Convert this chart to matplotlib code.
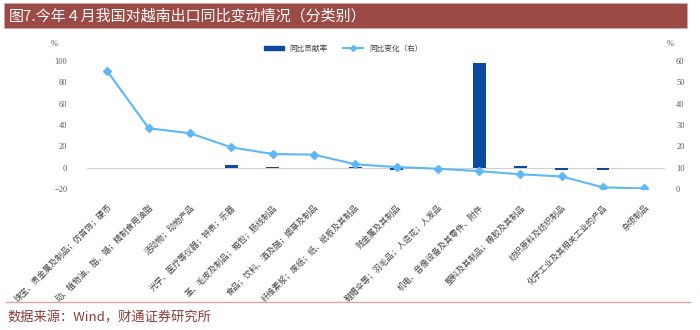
import matplotlib
matplotlib.use("Agg")
import matplotlib.pyplot as plt
from matplotlib.patches import Rectangle
from matplotlib.lines import Line2D
import numpy as np

plt.rcParams["font.family"] = ["Noto Sans CJK SC", "DejaVu Sans"]

categories = [
    "珠宝、贵金属及制品；仿首饰；硬币",
    "动、植物油、脂、蜡；精制食用油脂",
    "活动物；动物产品",
    "光学、医疗等仪器；钟表；乐器",
    "革、毛皮及制品；箱包；肠线制品",
    "食品；饮料、酒及醋；烟草及制品",
    "纤维素浆；废纸；纸、纸板及其制品",
    "贱金属及其制品",
    "鞋帽伞等；羽毛品；人造花；人发品",
    "机电、音像设备及其零件、附件",
    "塑料及其制品；橡胶及其制品",
    "纺织原料及纺织制品",
    "化学工业及其相关工业的产品",
    "杂项制品",
]
contribution = [0.1, 0.1, 0.1, 2.2, 0.2, 0.1, 0.2, -1.8, 0.1, 98.0, 1.6, -2.4, -1.7, 0.1]
yoy_change = [55.0, 28.4, 26.1, 19.5, 16.4, 16.1, 11.6, 10.3, 9.5, 8.4, 6.9, 5.9, 0.8, 0.3]

left_ticks = [-20, 0, 20, 40, 60, 80, 100]
right_ticks = [0, 10, 20, 30, 40, 50, 60]

bar_color = "#0B4A9E"
line_color = "#5DB9F6"
band_color = "#9B4A45"
tick_color = "#595959"

fig = plt.figure(figsize=(7, 3.3), dpi=100)

# title band
fig.patches.append(Rectangle((0.005, 0.915), 0.977, 0.076, transform=fig.transFigure,
                             facecolor=band_color, edgecolor="#D9A7A3", linewidth=0.6))
fig.text(0.012, 0.952, "图7.今年４月我国对越南出口同比变动情况（分类别）", color="white",
         fontsize=10.8, va="center", ha="left")

ax = fig.add_axes([0.124, 0.427, 0.826, 0.389])
ax2 = ax.twinx()

x = np.arange(len(categories))
ax.bar(x, contribution, width=0.31, color=bar_color, zorder=2)
ax.axhline(0, color="#D0D0D0", linewidth=0.8, zorder=1)
ax2.plot(x, yoy_change, color=line_color, linewidth=1.5, marker="D", markersize=3.8, zorder=3)

ax.set_xlim(-0.5, len(categories) - 0.5)
ax.set_ylim(-20, 100)
ax2.set_ylim(0, 60)
ax.set_yticks(left_ticks)
ax2.set_yticks(right_ticks)
ax.set_xticks(x)
ax.set_xticklabels(categories, rotation=45, ha="right", va="top", rotation_mode="anchor",
                   fontsize=4.8, color="#404040")

for a in (ax, ax2):
    for s in a.spines.values():
        s.set_visible(False)
    a.tick_params(length=0, labelsize=6, colors=tick_color)
    for lab in a.get_yticklabels():
        lab.set_family(["Liberation Serif", "DejaVu Serif"])
ax.tick_params(axis="x", pad=10, colors="#404040")
ax.tick_params(axis="y", pad=14)
ax2.tick_params(axis="y", pad=8)

fig.text(0.078, 0.862, "%", fontsize=6, color=tick_color, ha="center",
         family=["Liberation Serif", "DejaVu Serif"])
fig.text(0.958, 0.862, "%", fontsize=6, color=tick_color, ha="center",
         family=["Liberation Serif", "DejaVu Serif"])

handles = [Rectangle((0, 0), 1, 1, color=bar_color),
           Line2D([0], [0], color=line_color, linewidth=1.4, marker="D", markersize=3)]
fig.legend(handles, ["同比贡献率", "同比变化（右）"], loc="center", bbox_to_anchor=(0.49, 0.853),
           ncol=2, frameon=False, fontsize=5.5, handlelength=2.6, handleheight=0.5,
           columnspacing=2.0, labelcolor="#404040")

# footer
fig.add_artist(Line2D([0.008, 0.985], [0.085, 0.085], transform=fig.transFigure,
                      color="#D9A7A3", linewidth=1.0))
fig.text(0.01, 0.035, "数据来源：Wind，财通证券研究所", fontsize=9.5, color="#8E3B36",
         va="center", ha="left")

fig.savefig("out.png", dpi=100)
